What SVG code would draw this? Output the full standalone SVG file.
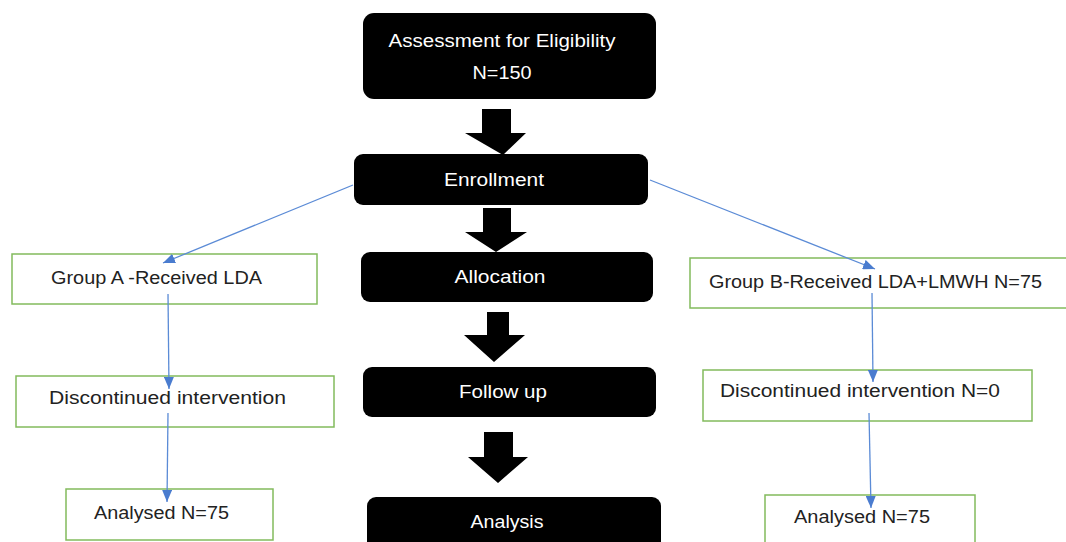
<svg xmlns="http://www.w3.org/2000/svg" width="1066" height="542" viewBox="0 0 1066 542">
<style>
.blk{fill:#000}
.bt{fill:#fff;font-family:"Liberation Sans",Arial,sans-serif;font-size:17.5px}
.gb{fill:#fff;stroke:#82bb5c;stroke-width:1.5}
.gt{fill:#222;font-family:"Liberation Sans",Arial,sans-serif;font-size:17.5px}
.cn{stroke:#5b8bd6;stroke-width:1.3;fill:none;marker-end:url(#ah)}
</style>
<defs>
<marker id="ah" viewBox="0 0 12 10" refX="12" refY="5" markerWidth="12" markerHeight="10" markerUnits="userSpaceOnUse" orient="auto">
<path d="M0,0 L12,5 L0,10 Z" fill="#4a7ccf"/>
</marker>
</defs>
<rect width="1066" height="542" fill="#fff"/>
<g id="assessment"><rect class="blk" x="363" y="13" width="293" height="86" rx="11"/>
<text class="bt" x="502" y="47" text-anchor="middle" textLength="227" lengthAdjust="spacingAndGlyphs">Assessment for Eligibility</text>
<text class="bt" x="502" y="79" text-anchor="middle" textLength="59" lengthAdjust="spacingAndGlyphs">N=150</text></g>
<g id="enrollment"><rect class="blk" x="354" y="154" width="294" height="51" rx="9"/>
<text class="bt" x="494" y="186" text-anchor="middle" textLength="100" lengthAdjust="spacingAndGlyphs">Enrollment</text></g>
<g id="allocation"><rect class="blk" x="361" y="252" width="292" height="50" rx="9"/>
<text class="bt" x="500" y="283" text-anchor="middle" textLength="91" lengthAdjust="spacingAndGlyphs">Allocation</text></g>
<g id="followup"><rect class="blk" x="363" y="367" width="293" height="50" rx="9"/>
<text class="bt" x="503" y="398" text-anchor="middle" textLength="88" lengthAdjust="spacingAndGlyphs">Follow up</text></g>
<g id="analysis"><rect class="blk" x="367" y="497" width="294" height="60" rx="9"/>
<text class="bt" x="507" y="528" text-anchor="middle" textLength="73" lengthAdjust="spacingAndGlyphs">Analysis</text></g>
<g id="groupA"><rect class="gb" x="12" y="254" width="305" height="50"/>
<text class="gt" x="51" y="284" textLength="211" lengthAdjust="spacingAndGlyphs">Group A -Received LDA</text></g>
<g id="discA"><rect class="gb" x="16" y="376" width="318" height="51"/>
<text class="gt" x="49" y="404" textLength="237" lengthAdjust="spacingAndGlyphs">Discontinued intervention</text></g>
<g id="analA"><rect class="gb" x="66" y="489" width="207" height="51"/>
<text class="gt" x="94" y="519" textLength="135" lengthAdjust="spacingAndGlyphs">Analysed N=75</text></g>
<g id="groupB"><rect class="gb" x="690" y="258" width="380" height="50"/>
<text class="gt" x="709" y="288" textLength="333" lengthAdjust="spacingAndGlyphs">Group B-Received LDA+LMWH N=75</text></g>
<g id="discB"><rect class="gb" x="703" y="370" width="329" height="51"/>
<text class="gt" x="720" y="397" textLength="280" lengthAdjust="spacingAndGlyphs">Discontinued intervention N=0</text></g>
<g id="analB"><rect class="gb" x="765" y="495" width="210" height="50"/>
<text class="gt" x="794" y="523" textLength="136" lengthAdjust="spacingAndGlyphs">Analysed N=75</text></g>
<g id="connectors">
<polygon class="blk" points="482,109 511,109 511,133 526,133 503,155 465,133 482,133" transform="translate(0,0)"/>
<polygon class="blk" points="483,208 511,208 511,232 527,232 496,252 465,232 483,232"/>
<polygon class="blk" points="487,312 509,312 509,335 525,335 494,362 464,335 487,335"/>
<polygon class="blk" points="484,432 513,432 513,457 528,457 498,483 468,457 484,457"/>
<line class="cn" x1="353" y1="185" x2="163" y2="263"/>
<line class="cn" x1="650" y1="180" x2="875" y2="269"/>
<line class="cn" x1="168" y1="294" x2="169" y2="389"/>
<line class="cn" x1="168" y1="413" x2="167" y2="502"/>
<line class="cn" x1="872" y1="293" x2="873" y2="382"/>
<line class="cn" x1="869" y1="413" x2="871" y2="508"/>
</g>
</svg>
